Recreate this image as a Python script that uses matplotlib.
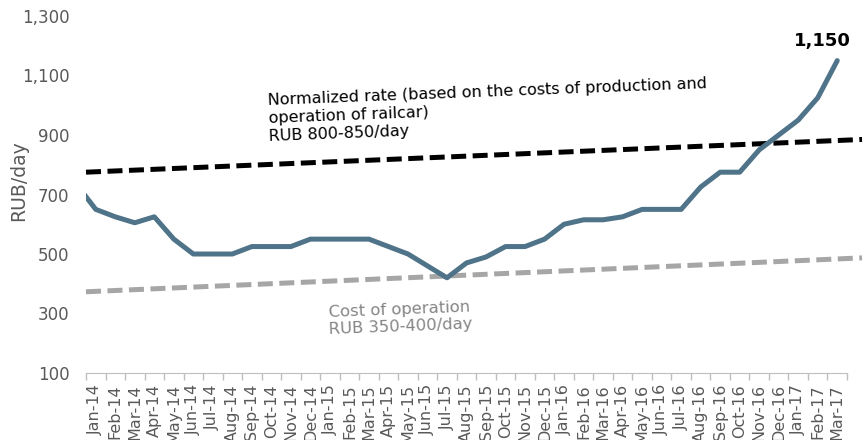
import matplotlib.pyplot as plt
import numpy as np

plt.rcParams['font.family'] = ['DejaVu Sans']

# categories (Jan-14 .. Mar-17)
months = ['Jan-14', 'Feb-14', 'Mar-14', 'Apr-14', 'May-14', 'Jun-14', 'Jul-14', 'Aug-14',
          'Sep-14', 'Oct-14', 'Nov-14', 'Dec-14', 'Jan-15', 'Feb-15', 'Mar-15', 'Apr-15',
          'May-15', 'Jun-15', 'Jul-15', 'Aug-15', 'Sep-15', 'Oct-15', 'Nov-15', 'Dec-15',
          'Jan-16', 'Feb-16', 'Mar-16', 'Apr-16', 'May-16', 'Jun-16', 'Jul-16', 'Aug-16',
          'Sep-16', 'Oct-16', 'Nov-16', 'Dec-16', 'Jan-17', 'Feb-17', 'Mar-17']
# rate, RUB/day (first value is Dec-13, clipped at the left edge)
rate_prev = 735
rate = [650, 625, 605, 625, 550, 500, 500, 500,
        525, 525, 525, 550, 550, 550, 550, 525,
        500, 460, 420, 470, 490, 525, 525, 550,
        600, 615, 615, 625, 650, 650, 650, 725,
        775, 775, 850, 900, 950, 1025, 1150]
# trend lines (start / end values)
norm_trend = [775, 885]
cost_trend = [373, 487]

fig = plt.figure(figsize=(8.65, 4.4), dpi=100)
ax = fig.add_axes([86/865, 67/440, (847-86)/865, (373-16)/440])

x = np.arange(-1, len(months))
ax.plot(x, [rate_prev] + rate, color='#4f7389', lw=3.6, solid_joinstyle='round',
        solid_capstyle='round', zorder=3)

tx = [-0.5, 39.27]
ax.plot(tx, norm_trend, color='black', lw=3.6, dashes=(3, 1.3), clip_on=False, zorder=2)
ax.plot(tx, cost_trend, color='#a6a6a6', lw=3.6, dashes=(3, 1.3), clip_on=False, zorder=2)

ax.set_xlim(-0.5, len(months) - 0.5)
ax.set_ylim(100, 1300)
ax.set_yticks(np.arange(100, 1301, 200))
ax.set_yticklabels([f'{v:,}' for v in range(100, 1301, 200)])
ax.tick_params(axis='y', length=0, pad=12, labelsize=12, labelcolor='#595959')

ax.set_xticks(np.arange(-0.5, len(months), 1))
ax.set_xticklabels([])
ax.tick_params(axis='x', which='major', length=5, color='#bfbfbf', width=1)
ax.set_xticks(np.arange(len(months)), minor=True)
ax.set_xticklabels(months, minor=True, rotation=90, fontsize=11.5, color='#595959')
ax.tick_params(axis='x', which='minor', length=0, pad=8)

for s in ['top', 'right', 'left']:
    ax.spines[s].set_visible(False)
ax.spines['bottom'].set_color('#bfbfbf')
ax.set_ylabel('RUB/day', fontsize=13.5, color='#595959')
ax.yaxis.set_label_coords(-0.076, 0.54)

ax.text(8.8, 1040, 'Normalized rate (based on the costs of production and\noperation of railcar)\nRUB 800-850/day',
        fontsize=11.5, color='black', rotation=2.2, rotation_mode='anchor',
        ha='left', va='top', linespacing=1.25)
ax.text(11.9, 329, 'Cost of operation\nRUB 350-400/day', fontsize=11.8, color='#858585',
        rotation=2.2, rotation_mode='anchor', ha='left', va='top', linespacing=1.15)
ax.text(38.7, 1185, f'{rate[-1]:,}', fontsize=13, fontweight='bold',
        ha='right', va='bottom', color='black')

plt.savefig('out.png', dpi=100)
